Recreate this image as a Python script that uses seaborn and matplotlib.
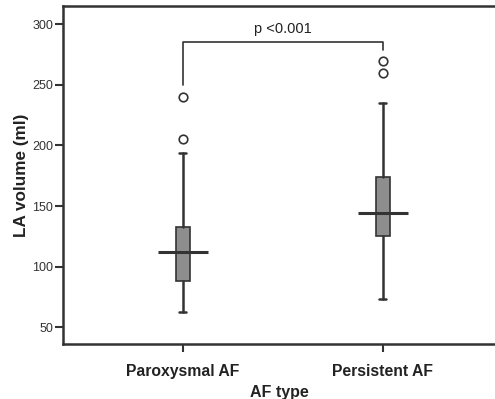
import matplotlib
matplotlib.use("Agg")
import matplotlib.pyplot as plt
import seaborn as sns
import pandas as pd

# summary statistics (LA volume, ml)
groups = ["Paroxysmal AF", "Persistent AF"]
whisker_low = [63, 73]
q1 = [88, 125]
median = [112, 144]
q3 = [133, 174]
whisker_high = [194, 235]
outlier_group = ["Paroxysmal AF", "Paroxysmal AF", "Persistent AF", "Persistent AF"]
outlier_value = [205, 240, 260, 270]
yticks = [50, 100, 150, 200, 250, 300]
p_text = "p <0.001"

sns.set_style("ticks")
plt.rcParams["font.family"] = ["Liberation Sans", "DejaVu Sans"]

line_col = "#333333"
box_col = "#8e8e8e"

fig = plt.figure(figsize=(4.95, 3.99), dpi=100)
ax = fig.add_axes([0.127, 0.137, 0.873, 0.848])

positions = list(range(len(groups)))
stats = []
for i, g in enumerate(groups):
    stats.append({
        "label": g, "med": median[i], "q1": q1[i], "q3": q3[i],
        "whislo": whisker_low[i], "whishi": whisker_high[i], "fliers": [],
    })

ax.bxp(stats, positions=positions, widths=0.07, patch_artist=True,
       showfliers=False,
       boxprops=dict(facecolor=box_col, edgecolor=line_col, linewidth=1.2),
       whiskerprops=dict(color=line_col, linewidth=1.8),
       capprops=dict(color=line_col, linewidth=1.8),
       medianprops=dict(linewidth=0))
ax.hlines(median, [p - 0.125 for p in positions], [p + 0.125 for p in positions],
          color=line_col, linewidth=2.2, zorder=5)

df_out = pd.DataFrame({"group": outlier_group, "value": outlier_value})
df_out["pos"] = df_out["group"].map({g: i for i, g in enumerate(groups)})
sns.scatterplot(data=df_out, x="pos", y="value", ax=ax, marker="o", s=38,
                facecolor="white", edgecolor=line_col, linewidth=1.2, zorder=6)

# significance bracket
ax.plot([0, 0, 1, 1], [250, 285.5, 285.5, 278.5], color=line_col, linewidth=1.2)
ax.text(0.5, 290, p_text, ha="center", va="bottom", fontsize=10.5, color="#222222")

ax.set_xlim(-0.6, 1.56)
ax.set_ylim(36, 315)
ax.set_xticks(positions)
ax.set_xticklabels(groups, fontsize=11.3, fontweight="bold", color="#222222")
ax.set_yticks(yticks)
ax.set_yticklabels([str(t) for t in yticks], fontsize=9, color="#333333")
ax.tick_params(axis="both", length=5.5, width=1.5, color=line_col)
ax.tick_params(axis="x", pad=9)
ax.tick_params(axis="y", pad=1.5)
ax.set_xlabel("AF type", fontsize=11.5, fontweight="bold", color="#222222", labelpad=4)
ax.set_ylabel("LA volume (ml)", fontsize=12.3, fontweight="bold", color="#222222", labelpad=2)

for side in ["left", "bottom", "top"]:
    ax.spines[side].set_color(line_col)
    ax.spines[side].set_linewidth(1.8)
ax.spines["right"].set_visible(False)

fig.savefig("out.png", dpi=100)
